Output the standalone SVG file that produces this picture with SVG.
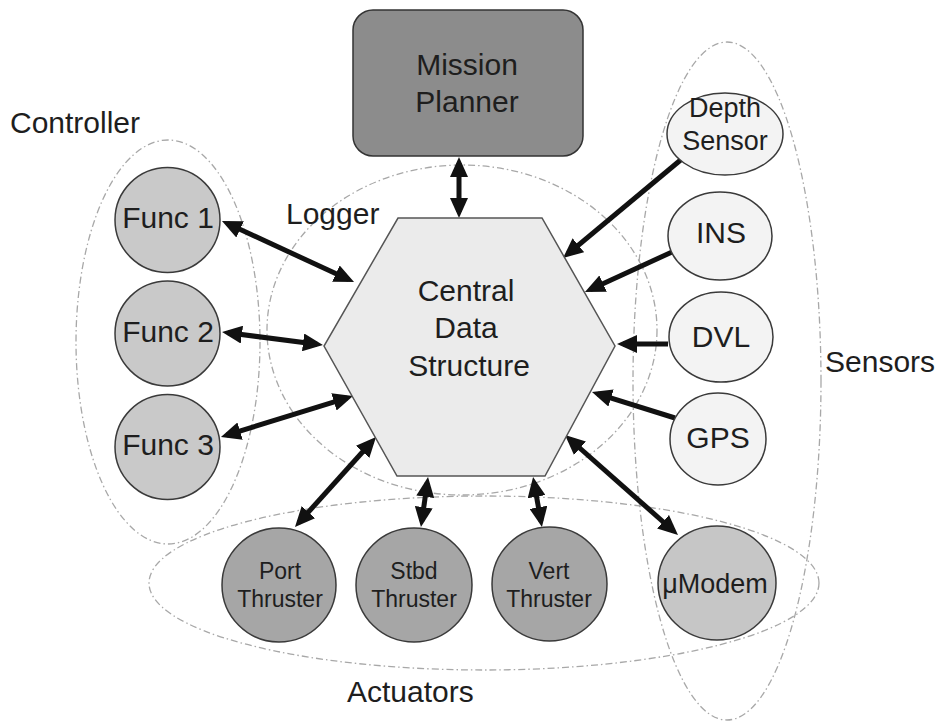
<svg xmlns="http://www.w3.org/2000/svg" width="946" height="723" viewBox="0 0 946 723">
<style>
text{font-family:"Liberation Sans",Arial,sans-serif;fill:#1e1e1e;text-anchor:middle}
.grp{fill:none;stroke:#a8a8a8;stroke-width:1.3;stroke-dasharray:7 3 1.5 3}
.lbl{font-size:30px;text-anchor:start}
.node{stroke:#3a3a3a;stroke-width:1.5}
.func{fill:#c9c9c9}
.sens{fill:#f3f3f3}
.thr{fill:#a6a6a6}
.modem{fill:#c6c6c6}
.conn line{stroke:#111;stroke-width:5}
.bi{marker-start:url(#ah);marker-end:url(#ah)}
.uni{marker-end:url(#ah)}
</style>
<defs>
<marker id="ah" viewBox="0 0 20 18" refX="14" refY="9" markerWidth="20" markerHeight="18" markerUnits="userSpaceOnUse" orient="auto-start-reverse">
<path d="M0,0 L20,9 L0,18 z" fill="#111"/>
</marker>
</defs>
<rect width="946" height="723" fill="#ffffff"/>
<g id="groups">
<ellipse id="controller-region" class="grp" cx="168" cy="342" rx="92" ry="202"/>
<ellipse id="logger-region" class="grp" cx="462" cy="330" rx="195" ry="165"/>
<ellipse id="sensors-region" class="grp" cx="727" cy="381" rx="94" ry="339"/>
<ellipse id="actuators-region" class="grp" cx="484" cy="583" rx="335" ry="87"/>
<text class="lbl" x="10" y="133">Controller</text>
<text class="lbl" x="286" y="224">Logger</text>
<text class="lbl" x="825" y="372">Sensors</text>
<text class="lbl" x="347" y="702">Actuators</text>
</g>
<g class="conn" id="connectors">
<line class="bi" x1="459" y1="163" x2="459" y2="212"/>
<line class="bi" x1="227.4" y1="223.5" x2="348.6" y2="279.5"/>
<line class="bi" x1="228" y1="332.8" x2="317" y2="344.2"/>
<line class="bi" x1="226.7" y1="435.2" x2="347.3" y2="397.8"/>
<line class="bi" x1="372" y1="441.5" x2="299" y2="522.5"/>
<line class="bi" x1="427.2" y1="482.9" x2="421.8" y2="521.1"/>
<line class="bi" x1="534.1" y1="482.9" x2="540.9" y2="521.1"/>
<line class="bi" x1="569.5" y1="439" x2="673.5" y2="531"/>
<line class="uni" x1="683" y1="158" x2="567.6" y2="254.2"/>
<line class="uni" x1="672" y1="252" x2="590.4" y2="289.5"/>
<line class="uni" x1="668" y1="344" x2="623" y2="344"/>
<line class="uni" x1="675" y1="418" x2="597.7" y2="393.8"/>
</g>
<g id="mission-planner">
<rect x="353" y="10" width="230" height="146" rx="20" fill="#8c8c8c" stroke="#333" stroke-width="1.5"/>
<text x="467" y="75" font-size="30">Mission</text>
<text x="467" y="112" font-size="30">Planner</text>
</g>
<g id="central-data-structure">
<polygon points="398,218 542,218 615,346 545,476 397,476 324,346" fill="#ebebeb" stroke="#555" stroke-width="1.5"/>
<text x="466" y="301" font-size="30">Central</text>
<text x="466" y="338" font-size="30">Data</text>
<text x="469" y="376" font-size="30">Structure</text>
</g>
<g id="func1"><circle class="node func" cx="167.5" cy="220" r="52.5"/><text x="168" y="228" font-size="30">Func 1</text></g>
<g id="func2"><circle class="node func" cx="167.5" cy="333.5" r="52.5"/><text x="168" y="342" font-size="30">Func 2</text></g>
<g id="func3"><circle class="node func" cx="167.5" cy="447" r="52.5"/><text x="168" y="455" font-size="30">Func 3</text></g>
<g id="depth-sensor"><ellipse class="node sens" cx="725" cy="134" rx="58" ry="41"/><text x="725" y="117" font-size="27">Depth</text><text x="725" y="150" font-size="27">Sensor</text></g>
<g id="ins"><ellipse class="node sens" cx="720" cy="236" rx="52" ry="44"/><text x="721" y="243" font-size="30">INS</text></g>
<g id="dvl"><ellipse class="node sens" cx="721" cy="337" rx="52" ry="45"/><text x="721" y="347" font-size="30">DVL</text></g>
<g id="gps"><ellipse class="node sens" cx="718" cy="439" rx="48" ry="46"/><text x="718" y="448" font-size="30">GPS</text></g>
<g id="port-thruster"><ellipse class="node thr" cx="279" cy="585" rx="57" ry="57"/><text x="280" y="579" font-size="23">Port</text><text x="280" y="607" font-size="23">Thruster</text></g>
<g id="stbd-thruster"><ellipse class="node thr" cx="414" cy="585" rx="58" ry="57"/><text x="414" y="579" font-size="23">Stbd</text><text x="414" y="607" font-size="23">Thruster</text></g>
<g id="vert-thruster"><ellipse class="node thr" cx="549.5" cy="584" rx="57.5" ry="57"/><text x="549" y="579" font-size="23">Vert</text><text x="549" y="607" font-size="23">Thruster</text></g>
<g id="umodem"><ellipse class="node modem" cx="717" cy="583" rx="59" ry="57"/><text x="715" y="593" font-size="27">μModem</text></g>
</svg>
